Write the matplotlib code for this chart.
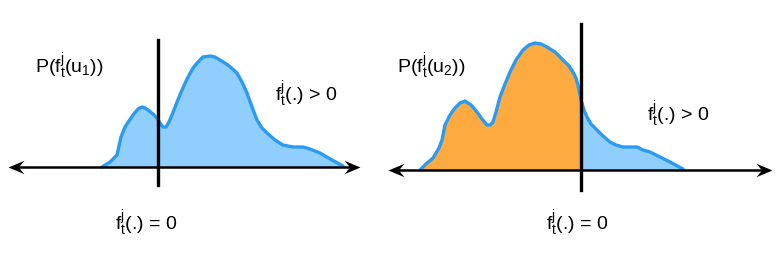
import matplotlib
matplotlib.use("Agg")
import matplotlib.pyplot as plt
from matplotlib.path import Path

plt.rcParams['font.family'] = ['Liberation Sans', 'DejaVu Sans']
plt.rcParams['mathtext.fontset'] = 'custom'
plt.rcParams['mathtext.rm'] = 'Liberation Sans'
plt.rcParams['mathtext.it'] = 'Liberation Sans'

# Curve 1 (left panel): x relative to the zero line, density above baseline
c1_x = [-56, -48, -41, -39, -37, -33, -29, -25, -20, -16, -13, -10, -5, -1, 2, 5, 8, 11, 14, 19, 24,
        29, 35, 40, 45, 52, 57, 62, 70, 79, 84, 89, 94, 99, 104, 109, 117, 125, 135, 145, 152, 162, 174, 185]
c1_y = [0, 5, 12, 21, 30, 40, 46, 52, 58, 60, 59, 57, 53, 49, 44, 40, 40, 45, 52, 65, 77,
        88, 99, 105, 110, 111, 110, 107, 102, 94, 85, 74, 60, 47, 39, 34, 27, 22, 20, 20, 18, 14, 7, 1]

# Curve 2 (right panel)
c2_x = [-161, -155, -148, -142, -139, -136, -131, -126, -121, -116, -110, -104, -99, -94, -91, -88, -85,
        -81, -76, -71, -65, -58, -52, -46, -40, -34, -26, -18, -12, -8, -5, -3, 0, 3, 6, 10, 16, 22,
        29, 35, 42, 49, 56, 62, 69, 79, 89, 102]
c2_y = [0, 6, 12, 22, 30, 45, 55, 62, 67, 69, 65, 58, 51, 45, 45, 48, 58,
        73, 86, 98, 110, 120, 125, 127, 126, 123, 118, 110, 104, 98, 92, 85, 70, 60, 53, 46, 40, 34,
        28, 25, 23, 23, 23, 20, 18, 13, 8, 1]

panels = [
    dict(rect=(0, 0, 388, 266), zero=158, base=167, xl=(-150, 202), vtop=127, vbot=-18,
         cx=c1_x, cy=c1_y, split=False,
         title=r'P(f$^{\mathrm{j}}_{\mathrm{t}}$(u$_{\mathrm{1}}$))', tpos=(-123, 100),
         gt=r'f$^{\mathrm{j}}_{\mathrm{t}}$(.) > 0', gpos=(117, 72),
         eq=r'f$^{\mathrm{j}}_{\mathrm{t}}$(.) = 0', epos=(-43, -57)),
    dict(rect=(388, 0, 388, 266), zero=581, base=170, xl=(-193, 191), vtop=146, vbot=-20,
         cx=c2_x, cy=c2_y, split=True,
         title=r'P(f$^{\mathrm{j}}_{\mathrm{t}}$(u$_{\mathrm{2}}$))', tpos=(-184, 103),
         gt=r'f$^{\mathrm{j}}_{\mathrm{t}}$(.) > 0', gpos=(66, 55),
         eq=r'f$^{\mathrm{j}}_{\mathrm{t}}$(.) = 0', epos=(-35, -54)),
]

W, H = 776, 266
fig = plt.figure(figsize=(W / 100, H / 100), dpi=100)

blue_line = '#2A9BF2'
blue_fill = '#8FCEFD'
orange = '#FDAB40'

head = Path([(0, 0), (-1, 0.42), (-0.65, 0), (-1, -0.42), (0, 0)],
            [Path.MOVETO, Path.LINETO, Path.LINETO, Path.LINETO, Path.CLOSEPOLY])
head_l = Path([(0, 0), (1, 0.42), (0.65, 0), (1, -0.42), (0, 0)],
              [Path.MOVETO, Path.LINETO, Path.LINETO, Path.LINETO, Path.CLOSEPOLY])

for p in panels:
    x0, y0, w, h = p['rect']
    ax = fig.add_axes([x0 / W, y0 / H, w / W, h / H])
    ax.set_xlim(x0 - p['zero'], x0 + w - p['zero'])
    ax.set_ylim(-(H - p['base']), p['base'])
    ax.axis('off')
    cx, cy = p['cx'], p['cy']
    if p['split']:
        ax.fill_between(cx, cy, 0, where=[v <= 0 for v in cx], color=orange, lw=0, interpolate=True, zorder=1)
        ax.fill_between(cx, cy, 0, where=[v >= 0 for v in cx], color=blue_fill, lw=0, interpolate=True, zorder=1)
    else:
        ax.fill_between(cx, cy, 0, color=blue_fill, lw=0, zorder=1)
    ax.plot(cx, cy, color=blue_line, lw=2.4, solid_capstyle='round', solid_joinstyle='round', zorder=2)
    # horizontal axis with arrowheads
    xl = p['xl']
    ax.plot([xl[0] + 10, xl[1] - 10], [0, 0], color='black', lw=1.8, zorder=3)
    ax.plot([xl[1]], [0], marker=head, markersize=23, color='black', markeredgewidth=0, zorder=4)
    ax.plot([xl[0]], [0], marker=head_l, markersize=23, color='black', markeredgewidth=0, zorder=4)
    ax.plot([0, 0], [p['vbot'], p['vtop']], color='black', lw=2.4, zorder=3)
    ax.text(*p['tpos'], p['title'], fontsize=14, ha='left', va='center')
    ax.text(*p['gpos'], p['gt'], fontsize=14, ha='left', va='center')
    ax.text(*p['epos'], p['eq'], fontsize=14, ha='left', va='center')

fig.savefig('out.png', dpi=100)
